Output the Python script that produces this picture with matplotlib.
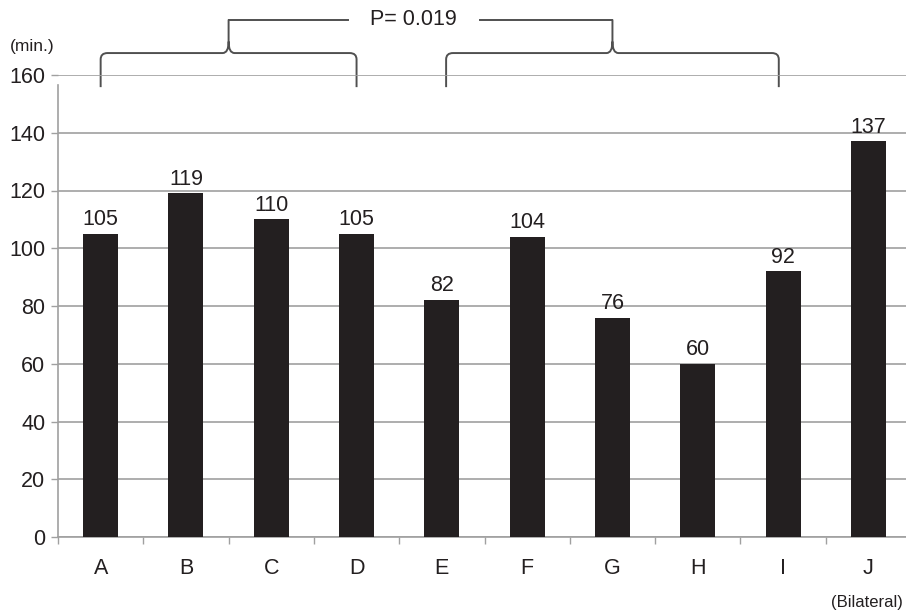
import numpy as np
import matplotlib
matplotlib.use("Agg")
import matplotlib.pyplot as plt
from matplotlib.path import Path
from matplotlib.patches import PathPatch

plt.rcParams['font.family'] = ['Liberation Sans', 'DejaVu Sans']

groups = ["A", "B", "C", "D", "E", "F", "G", "H", "I", "J"]
minutes = [105, 119, 110, 105, 82, 104, 76, 60, 92, 137]
yticks = [0, 20, 40, 60, 80, 100, 120, 140, 160]
p_text = "P= 0.019"

fig = plt.figure(figsize=(9.06, 6.14), dpi=100)
ax = fig.add_axes([58/906, 77/614, 853/906, 462/614])

x = np.arange(len(groups))
ax.bar(x, minutes, width=0.41, color="#231f20", zorder=3)
for xi, v in zip(x, minutes):
    ax.text(xi, v + 1.3, str(v), ha="center", va="bottom", fontsize=15.5, color="#231f20")

ax.set_xlim(-0.5, len(groups) - 0.5)
ax.set_ylim(0, 160)
ax.set_yticks(yticks)
ax.set_xticks(x)
ax.set_xticklabels(groups)
ax.set_xticks(np.arange(-0.5, len(groups) - 0.4, 1), minor=True)
ax.tick_params(axis="x", which="major", length=0, pad=15, labelsize=15.5, labelcolor="#231f20")
ax.tick_params(axis="x", which="minor", length=5, width=1, color="#a0a0a0", direction="out")
ax.tick_params(axis="y", length=5, width=1, color="#a0a0a0", pad=4, labelsize=15.5, labelcolor="#231f20")
ax.yaxis.grid(True, color="#a0a0a0", linewidth=1.2, zorder=0)
for s in ["top", "right"]:
    ax.spines[s].set_visible(False)
ax.spines["left"].set_color("#a0a0a0")
ax.spines["left"].set_bounds(0, 156.5)
ax.spines["bottom"].set_color("#a0a0a0")
ax.spines["left"].set_linewidth(1.2)
ax.spines["bottom"].set_linewidth(1.2)


def brace(x0, x1, ylow, ymid, ytop, rx=0.08, ry=2.2, cx=0.07, cy=4.0):
    xm = (x0 + x1) / 2
    verts = [
        (x0, ylow), (x0, ymid - ry),
        (x0, ymid), (x0 + rx, ymid),
        (xm - cx, ymid),
        (xm, ymid), (xm, ymid + cy),
        (xm, ytop),
        (xm, ymid + cy), (xm, ymid), (xm + cx, ymid),
        (x1 - rx, ymid),
        (x1, ymid), (x1, ymid - ry),
        (x1, ylow),
    ]
    codes = [Path.MOVETO, Path.LINETO,
             Path.CURVE3, Path.CURVE3,
             Path.LINETO,
             Path.CURVE3, Path.CURVE3,
             Path.LINETO,
             Path.MOVETO, Path.CURVE3, Path.CURVE3,
             Path.LINETO,
             Path.CURVE3, Path.CURVE3,
             Path.LINETO]
    patch = PathPatch(Path(verts, codes), fill=False, edgecolor="#505050",
                      linewidth=1.4, clip_on=False)
    ax.add_patch(patch)
    return xm


m1 = brace(0, 3, 155.8, 167.6, 179.2)
m2 = brace(4.05, 7.95, 155.8, 167.6, 179.2)
ax.plot([m1, 2.9], [179.2, 179.2], color="#505050", linewidth=1.4, clip_on=False)
ax.plot([4.45, m2], [179.2, 179.2], color="#505050", linewidth=1.4, clip_on=False)
ax.text(3.67, 179.2, p_text, ha="center", va="center", fontsize=15.5, color="#231f20")

fig.text(10/906, 1 - 46/614, "(min.)", ha="left", va="center", fontsize=12.5, color="#231f20")
fig.text(903/906, 1 - 603/614, "(Bilateral)", ha="right", va="center", fontsize=12, color="#231f20")

fig.savefig("out.png", dpi=100)
